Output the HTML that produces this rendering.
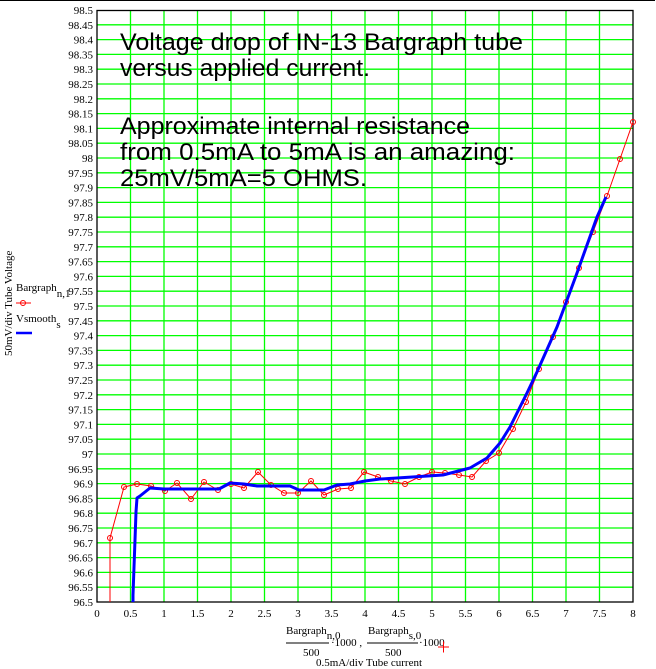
<!DOCTYPE html>
<html><head><meta charset="utf-8"><style>
html,body{margin:0;padding:0;background:#fff;}
svg{display:block;}
.t{font-family:"Liberation Serif",serif;font-size:11px;fill:#000;}
.big{font-family:"Liberation Sans",sans-serif;font-size:24px;fill:#000;}
</style></head><body>
<svg width="656" height="669" viewBox="0 0 656 669" xmlns="http://www.w3.org/2000/svg">
<line x1="0" y1="0.5" x2="655" y2="0.5" stroke="#000" stroke-width="1"/>
<g id="grid" stroke="#00ff00" stroke-width="1.3"></g>
<rect x="97" y="10.5" width="536" height="591.5" fill="none" stroke="#000" stroke-width="1.3"/>
<g id="ylab"></g><g id="xlab"></g>
<text class="big" x="120" y="50" textLength="403" lengthAdjust="spacingAndGlyphs">Voltage drop of IN-13 Bargraph tube</text>
<text class="big" x="120" y="76" textLength="250" lengthAdjust="spacingAndGlyphs">versus applied current.</text>
<text class="big" x="120" y="134" textLength="350" lengthAdjust="spacingAndGlyphs">Approximate internal resistance</text>
<text class="big" x="120" y="160" textLength="395" lengthAdjust="spacingAndGlyphs">from 0.5mA to 5mA is an amazing:</text>
<text class="big" x="120" y="186" textLength="247" lengthAdjust="spacingAndGlyphs">25mV/5mA=5 OHMS.</text>
<polyline id="red" fill="none" stroke="#ff0000" stroke-width="1" points=""/>
<g id="circ" fill="none" stroke="#ff0000" stroke-width="1"></g>
<polyline fill="none" stroke="#0000ff" stroke-width="3" stroke-linejoin="round" points="133,602 133,595 134,567 135,540 136,512 137,498 140,496 145,492 150,488 164,489 197,489 219,489 230,483 244,484 257,486 290,486 299,490 324,490 337,485 350,484 365,481 380,479 397,478 443,475 470,468 487,458 500,443 510,427 527,393 537,372 557,327 577,273 597,217 606,197"/>
<text class="t" transform="translate(12,356) rotate(-90)" font-size="10">50mV/div Tube Voltage</text>
<text class="t" x="16" y="291" font-size="10">Bargraph<tspan dy="6">n,1</tspan></text>
<line x1="16" y1="303" x2="31" y2="303" stroke="#ff0000"/><circle cx="23" cy="303" r="2.5" fill="none" stroke="#ff0000"/>
<text class="t" x="16" y="322" font-size="10">Vsmooth<tspan dy="6">s</tspan></text>
<line x1="16" y1="333" x2="32" y2="333" stroke="#0000ff" stroke-width="2.5"/>
<text class="t" x="286" y="634" font-size="10">Bargraph<tspan dy="5">n,0</tspan></text>
<line x1="286" y1="643" x2="329" y2="643" stroke="#000"/>
<text class="t" x="303" y="656" font-size="10">500</text>
<text class="t" x="331" y="646" font-size="10">·1000 ,</text>
<text class="t" x="368" y="634" font-size="10">Bargraph<tspan dy="5">s,0</tspan></text>
<line x1="367" y1="643" x2="418" y2="643" stroke="#000"/>
<text class="t" x="385" y="656" font-size="10">500</text>
<text class="t" x="419" y="646" font-size="10">·1000</text>
<path d="M438 647 h11 M443.5 641.5 v11" stroke="#ff0000" stroke-width="1"/>
<text class="t" x="316" y="666" font-size="10">0.5mA/div  Tube current</text>
</svg>
<script>
var ns="http://www.w3.org/2000/svg";
function X(v){return 97+v*67.0;}
function Y(v){return 602-(v-96.5)*296;}
var g=document.getElementById('grid'),yl=document.getElementById('ylab'),xl=document.getElementById('xlab');
function el(p,t,a,txt){var e=document.createElementNS(ns,t);for(var k in a)e.setAttribute(k,a[k]);if(txt)e.textContent=txt;p.appendChild(e);return e;}
for(var i=1;i<16;i++){var x=X(i*0.5);el(g,'line',{x1:x,y1:10,x2:x,y2:602});}
for(var i=1;i<40;i++){var y=Y(96.5+i*0.05);el(g,'line',{x1:97,y1:y,x2:633,y2:y});}
for(var i=0;i<=40;i++){var v=96.5+i*0.05;var s=(Math.round(v*100)/100).toString();el(yl,'text',{x:93,y:Y(v)+4,'text-anchor':'end','class':'t'},s);}
for(var i=0;i<=16;i++){var v=i*0.5;el(xl,'text',{x:X(v),y:617,'text-anchor':'middle','class':'t'},v.toString());}
var pts=[[110,538],[124,487],[137,484],[151,486],[165,491],[177,483],[191,499],[204,482],[218,490],[231,484],[244,488],[258,472],[271,485],[284,493],[298,493],[311,481],[324,495],[338,489],[351,488],[364,472],[378,477],[391,481],[405,484],[419,477],[432,472],[445,473],[459,475],[472,477],[486,461],[499,453],[513,429],[526,402],[539,369],[553,337],[566,302],[579,268],[593,232],[607,196],[620,159],[633,122]];
var s="110,602 "+pts.map(function(p){return p.join(',');}).join(' ');
document.getElementById('red').setAttribute('points',s);
var c=document.getElementById('circ');pts.forEach(function(p){el(c,'circle',{cx:p[0],cy:p[1],r:2.5});});
</script>
</body></html>
